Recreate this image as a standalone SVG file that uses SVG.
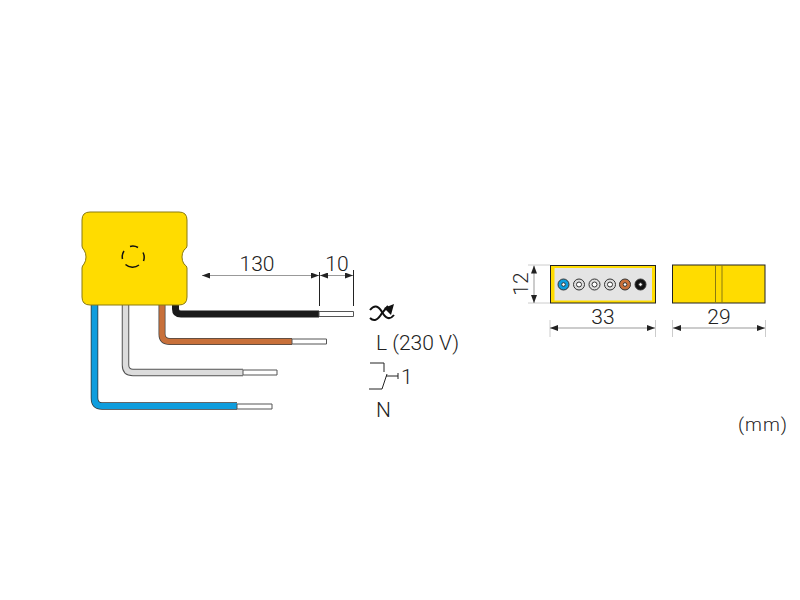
<svg xmlns="http://www.w3.org/2000/svg" width="800" height="600" viewBox="0 0 800 600">
<style>
text{font-family:Roboto,"Liberation Sans",sans-serif;font-weight:300;font-size:21px;fill:#222}
.m{text-anchor:middle}
.dim{stroke:#999;stroke-width:1;fill:none}
.tick{stroke:#222;stroke-width:1;fill:none}
.ext{stroke:#ccc;stroke-width:1;fill:none}
.tip{fill:#fff;stroke:#555;stroke-width:1}
.y{fill:#ffdc00;stroke:#8a7a10;stroke-width:1}
</style>
<defs>
<marker id="a" viewBox="0 0 8 6" refX="8" refY="3" markerWidth="8" markerHeight="6" markerUnits="userSpaceOnUse" orient="auto-start-reverse"><path d="M0 0L8 3L0 6Z" fill="#222"/></marker>
</defs>
<g id="connectors" fill="none" stroke-linejoin="round">
<path d="M94.500 303V398Q94.500 406 102 406H237" stroke="#333" stroke-width="7.500"/>
<path d="M94.500 303V398Q94.500 406 102 406H237" stroke="#0f9ddd" stroke-width="6"/>
<path d="M125.500 303V365Q125.500 372.500 133 372.500H243" stroke="#555" stroke-width="7.500"/>
<path d="M125.500 303V365Q125.500 372.500 133 372.500H243" stroke="#dcdcdc" stroke-width="5.500"/>
<path d="M162 303V334Q162 341.500 170 341.500H292" stroke="#444" stroke-width="7"/>
<path d="M162 303V334Q162 341.500 170 341.500H292" stroke="#c8703a" stroke-width="5.500"/>
<path d="M175.500 303V309Q175.500 314 181 314H319" stroke="#1a1a1a" stroke-width="7"/>
<rect class="tip" x="237" y="404" width="35" height="5"/>
<rect class="tip" x="243" y="370" width="34" height="5"/>
<rect class="tip" x="292" y="339" width="34.500" height="5"/>
<rect class="tip" x="319" y="311.500" width="34.500" height="5"/>
</g>
<g id="module">
<path class="y" d="M90 212H179Q187 212 187 220V246Q187 248 184 250Q182 253 182 257Q182 261 184 264Q187 266 187 268V297Q187 305 179 305H90Q82 305 82 297V268Q82 266 84 264Q86 261 86 257Q86 253 84 250Q82 248 82 246V220Q82 212 90 212Z"/>
<g fill="none" stroke="#111" stroke-width="1.500">
<path d="M122.500 259A10.500 10.500 0 0 1 124 251"/>
<path d="M130 246.500A10.500 10.500 0 0 1 138 247.500"/>
<path d="M143 252.500A10.500 10.500 0 0 1 143.500 261"/>
<path d="M125.500 264.500A10.500 10.500 0 0 0 139 265"/>
</g>
</g>
<g id="dim-130"><path class="dim" d="M202 275.500H319" marker-start="url(#a)" marker-end="url(#a)"/><path class="tick" d="M319.500 272V306"/><text class="m" x="257" y="271">130</text></g>
<g id="dim-10"><path class="dim" d="M320 275.500H353" marker-start="url(#a)" marker-end="url(#a)"/><path class="tick" d="M353.500 270V306"/><text class="m" x="337" y="271">10</text></g>
<g id="symbol-dimmer" fill="none" stroke="#111">
<path d="M370 310C374 305 378 305 382 312C386 319 390 320 394 315" stroke-width="2"/>
<path d="M370 318C374 322 378 320 382 313L388 306" stroke-width="2"/>
<path d="M394 304L391 315L384 308Z" fill="#111" stroke="none"/>
</g>
<g id="label-l"><text x="376" y="350">L (230 V)</text></g>
<g id="symbol-switch" fill="none" stroke="#222" stroke-width="1">
<path d="M370 363H384V372"/><path d="M369 389H382L387 374"/><path d="M386 376H398M398 373V379"/>
</g>
<g id="label-1"><text x="401" y="384">1</text></g>
<g id="label-n"><text x="376" y="417">N</text></g>
<g id="end-view">
<rect x="550.500" y="265.500" width="105" height="37.500" fill="#ffdc00" stroke="#222" stroke-width="1"/>
<rect x="554.500" y="268" width="97.500" height="32.500" fill="#e4e4e4"/>
<g stroke="#333" stroke-width="1">
<circle cx="563.500" cy="284.500" r="5.500" fill="#0f9ddd"/><circle cx="563.500" cy="284.500" r="1.800" fill="#fff"/>
<circle cx="579" cy="284.500" r="5.500" fill="#ddd"/><circle cx="579" cy="284.500" r="2.500" fill="#fff"/>
<circle cx="594.500" cy="284.500" r="5.500" fill="#ddd"/><circle cx="594.500" cy="284.500" r="2.500" fill="#fff"/>
<circle cx="610" cy="284.500" r="5.500" fill="#ddd"/><circle cx="610" cy="284.500" r="2.500" fill="#fff"/>
<circle cx="625" cy="284.500" r="5.500" fill="#c8703a"/><circle cx="625" cy="284.500" r="1.800" fill="#fff"/>
<circle cx="640.500" cy="284.500" r="5.500" fill="#111"/><circle cx="640.500" cy="284.500" r="1.800" fill="#fff"/>
</g>
</g>
<g id="dim-12"><path class="ext" d="M528 265H550M528 303H550"/><path class="dim" d="M534 265.500V303" marker-start="url(#a)" marker-end="url(#a)"/><text class="m" transform="translate(528 284) rotate(-90)">12</text></g>
<g id="dim-33"><path class="ext" d="M550 320V337M655.500 320V337"/><path class="dim" d="M550 328H655" marker-start="url(#a)" marker-end="url(#a)"/><text class="m" x="603" y="324">33</text></g>
<g id="side-view">
<rect x="672.500" y="265" width="92.500" height="38" fill="#ffdc00" stroke="#222" stroke-width="1"/>
<path d="M715.500 265V303M722 265V303" stroke="#8a7a10" stroke-width="1"/>
</g>
<g id="dim-29"><path class="ext" d="M672.500 320V337M765.500 320V337"/><path class="dim" d="M673 328H765" marker-start="url(#a)" marker-end="url(#a)"/><text class="m" x="719" y="324">29</text></g>
<g id="label-mm"><text x="738" y="431" font-size="19" style="font-size:19px;letter-spacing:1px">(mm)</text></g>
</svg>
